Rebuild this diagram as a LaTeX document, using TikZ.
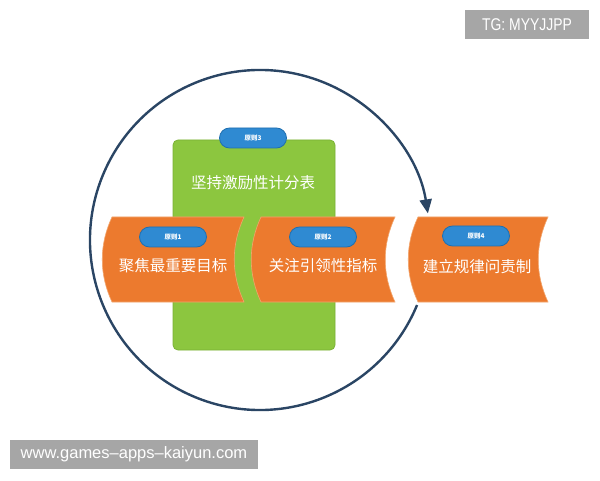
\documentclass[tikz,border=0pt]{standalone}
\usepackage{fontspec}
\setmainfont{Liberation Sans}
\newfontfamily\cjk{Noto Sans CJK SC}
\newfontfamily\tgfont[FakeStretch=0.82]{Liberation Sans}
\usetikzlibrary{arrows.meta}
\definecolor{bandorange}{HTML}{EC7A2E}
\definecolor{bandedge}{HTML}{F2A66E}
\definecolor{pillblue}{HTML}{2F8AD2}
\definecolor{pilledge}{HTML}{1F6FB0}
\definecolor{boxgreen}{HTML}{8CC63F}
\definecolor{boxedge}{HTML}{7AB236}
\definecolor{ringnavy}{HTML}{2A4564}
\definecolor{wmgray}{HTML}{A6A6A6}
\tikzset{
  pill/.style={rectangle, rounded corners=10pt, minimum width=67pt, minimum height=20pt,
    fill=pillblue, draw=pilledge, line width=0.8pt, text=white, font=\cjk\bfseries\fontsize{6.5}{7}\selectfont, inner sep=0pt},
  bigtext/.style={text=white, font=\cjk\fontsize{15.5}{18}\selectfont, inner sep=0pt},
  band/.style={fill=bandorange, draw=bandedge, line width=0.6pt},
  wmbox/.style={rectangle, fill=wmgray, text=white, inner sep=0pt},
}
\begin{document}
\begin{tikzpicture}[x=1pt,y=1pt]
\useasboundingbox[fill=white] (0,0) rectangle (600,480);
% ring with arrow
\coordinate (ringc) at (260,240);
\draw[ringnavy, line width=2.4pt, -{Triangle[length=14pt,width=12pt]}]
  ([shift={(-22.5:170)}]ringc) arc[start angle=-22.5, end angle=-351, radius=170];
% green box
\node (greenbox) [rectangle, rounded corners=5pt, fill=boxgreen, draw=boxedge, line width=0.8pt,
  minimum width=162pt, minimum height=210pt] at (254,235) {};
\node (p3) [pill] at (253,342) {原则3};
\node (t3) [bigtext] at (253,297) {坚持激励性计分表};
% bands
\foreach \xl/\xr in {112/244, 261/395, 418/548}{
  \path[band] (\xl,263) -- (\xr,263) .. controls (\xr-13,235) and (\xr-13,206) .. (\xr,178)
    -- (\xl,178) .. controls (\xl-13,206) and (\xl-13,235) .. (\xl,263) -- cycle;
}
\node (p1) [pill] at (173,243) {原则1};
\node (p2) [pill] at (323,243) {原则2};
\node (p4) [pill] at (476,244) {原则4};
\node (t1) [bigtext] at (173,214) {聚焦最重要目标};
\node (t2) [bigtext] at (323,214) {关注引领性指标};
\node (t4) [bigtext] at (477,213) {建立规律问责制};
% watermark boxes
\node (tg) [wmbox, minimum width=124pt, minimum height=29pt] at (527,455.5)
  {\tgfont\fontsize{17}{20}\selectfont TG: MYYJJPP};
\node (www) [wmbox, minimum width=248pt, minimum height=29pt] at (134,25.5)
  {\fontsize{16.5}{20}\selectfont www.games–apps–kaiyun.com};
\end{tikzpicture}
\end{document}
